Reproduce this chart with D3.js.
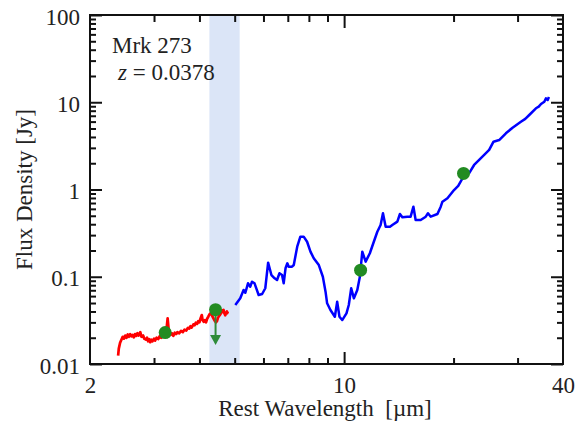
<!DOCTYPE html>
<html>
<head>
<meta charset="utf-8">
<script src="https://cdn.jsdelivr.net/npm/d3@7"></script>
<style>
  body { margin: 0; background: #fff; }
  svg text { font-family: 'Liberation Serif', 'Times New Roman', Times, 'DejaVu Serif', serif; }
</style>
</head>
<body>
<div id="sed"></div>
<script>
// wavelength [um], flux [Jy]
const nirWave = [2.39, 2.40, 2.42, 2.44, 2.46, 2.48, 2.50, 2.52, 2.54, 2.56, 2.58, 2.60, 2.62, 2.64, 2.66, 2.68, 2.70, 2.72, 2.75, 2.77,
  2.80, 2.82, 2.85, 2.87, 2.89, 2.91, 2.93, 2.95, 2.97, 3.00, 3.02, 3.05, 3.08, 3.11, 3.14, 3.17, 3.20, 3.23, 3.25, 3.27,
  3.29, 3.31, 3.33, 3.36, 3.39, 3.42, 3.45, 3.48, 3.52, 3.56, 3.60, 3.64, 3.68, 3.72, 3.75, 3.78, 3.81, 3.85, 3.88, 3.91,
  3.94, 3.97, 4.00, 4.03, 4.06, 4.08, 4.11, 4.14, 4.17, 4.20, 4.23, 4.27, 4.30, 4.33, 4.36, 4.40, 4.44, 4.47, 4.50, 4.53,
  4.56, 4.60, 4.63, 4.66, 4.68, 4.71, 4.73, 4.76, 4.78, 4.81]
const nirFlux = [0.0125, 0.0150, 0.0175, 0.0190, 0.0205, 0.0195, 0.0212, 0.0200, 0.0218, 0.0205, 0.0220, 0.0208, 0.0216, 0.0202, 0.0220, 0.0210, 0.0225, 0.0212, 0.0232, 0.0205,
  0.0212, 0.0195, 0.0190, 0.0200, 0.0182, 0.0192, 0.0178, 0.0190, 0.0182, 0.0195, 0.0185, 0.0200, 0.0193, 0.0208, 0.0200, 0.0215, 0.0222, 0.0230, 0.0260, 0.0334,
  0.0255, 0.0232, 0.0215, 0.0225, 0.0210, 0.0228, 0.0220, 0.0232, 0.0225, 0.0240, 0.0232, 0.0248, 0.0242, 0.0260, 0.0255, 0.0272, 0.0262, 0.0285, 0.0278, 0.0298,
  0.0288, 0.0310, 0.0300, 0.0335, 0.0364, 0.0320, 0.0305, 0.0318, 0.0300, 0.0330, 0.0348, 0.0375, 0.0385, 0.0360, 0.0340, 0.0315, 0.0300, 0.0310, 0.0340, 0.0355,
  0.0368, 0.0390, 0.0410, 0.0416, 0.0385, 0.0362, 0.0380, 0.0400, 0.0385, 0.0380]

const irsWave = [5.02, 5.18, 5.29, 5.35, 5.44, 5.52, 5.58, 5.67, 5.82, 5.95, 6.07, 6.18, 6.31, 6.44, 6.54, 6.64, 6.75, 6.82, 6.90, 6.98,
  7.04, 7.19, 7.27, 7.43, 7.58, 7.74, 7.91, 8.08, 8.25, 8.52, 8.74, 8.89, 8.98, 9.17, 9.43, 9.57, 9.71, 9.88, 10.15, 10.30,
  10.46, 10.64, 10.87, 11.05, 11.22, 11.46, 11.77, 12.03, 12.34, 12.60, 12.79, 13.01, 13.37, 13.57, 14.01, 14.24, 14.46, 14.93, 15.24, 15.51,
  15.73, 16.24, 16.77, 17.01, 17.31, 18.06, 18.44, 18.64, 19.24, 20.06, 20.6, 21.16, 22.06, 22.78, 23.52, 24.28, 25.06, 25.76, 26.70, 27.86,
  29.06, 30.64, 31.5, 32.30, 33.70, 34.3, 34.80, 35.54, 35.91, 36.30, 36.60]
const irsFlux = [0.0474, 0.0566, 0.0705, 0.0656, 0.0841, 0.0769, 0.0878, 0.0841, 0.0618, 0.0634, 0.0738, 0.145, 0.1047, 0.096, 0.0918, 0.1096, 0.1047, 0.0841, 0.125, 0.1426,
  0.1304, 0.1304, 0.1364, 0.221, 0.288, 0.288, 0.252, 0.194, 0.163, 0.136, 0.100, 0.0674, 0.0496, 0.0416, 0.0348, 0.0518, 0.0348, 0.0319, 0.0381, 0.0474,
  0.0738, 0.0566, 0.0705, 0.100, 0.194, 0.149, 0.186, 0.242, 0.328, 0.392, 0.534, 0.375, 0.375, 0.392, 0.428, 0.524, 0.480, 0.488, 0.488, 0.635,
  0.447, 0.447, 0.488, 0.534, 0.488, 0.524, 0.635, 0.725, 0.793, 0.986, 1.10, 1.343, 1.534, 1.91, 2.18, 2.49, 2.84, 3.53, 3.69, 4.41,
  5.11, 5.98, 6.45, 7.14, 8.53, 8.90, 9.55, 10.14, 11.1, 10.6, 11.5]

const photWave = [3.22, 4.43, 11.1, 21.3]
const photFlux = [0.0229, 0.0419, 0.119, 1.53]
const photUpper = [false, true, false, false]
const upperTo = 0.0165

const band = [4.26, 5.16]

const xLabels = [2, 10, 40]
const xMajor = [10]
const xMinor = [3, 4, 5, 6, 7, 8, 9, 20, 30]
const yLabels = [0.01, 0.1, 1, 10, 100]
const yLabelText = ['0.01', '0.1', '1', '10', '100']
const yMinor = [0.01, 0.1, 1, 10].flatMap(d => [2, 3, 4, 5, 6, 7, 8, 9].map(k => +(d * k).toPrecision(3)))

const width = 579
const height = 425
const marginTop = 15
const marginRight = 16
const marginBottom = 61
const marginLeft = 90
const innerWidth = width - marginLeft - marginRight
const innerHeight = height - marginTop - marginBottom

const svg = d3.select('#sed')
              .append('svg')
              .attr('width', width)
              .attr('height', height)
              .append('g')
              .attr('transform', `translate(${marginLeft}, ${marginTop})`)

const x = d3.scaleLog()
            .domain([2, 40])
            .range([0, innerWidth])

const y = d3.scaleLog()
            .domain([0.01, 100])
            .range([innerHeight, 0])

// shaded band
svg.append('rect')
   .attr('x', x(band[0]))
   .attr('y', 0)
   .attr('width', x(band[1]) - x(band[0]))
   .attr('height', innerHeight)
   .attr('fill', '#dbe5f7')

// inward ticks on all four sides
const tickAxes = [
  [d3.axisBottom(x).tickValues(xMajor).tickSize(-12), `translate(0, ${innerHeight})`],
  [d3.axisBottom(x).tickValues(xMinor).tickSize(-6), `translate(0, ${innerHeight})`],
  [d3.axisTop(x).tickValues(xMajor).tickSize(-13), null],
  [d3.axisTop(x).tickValues(xMinor).tickSize(-7), null],
  [d3.axisLeft(y).tickValues(yLabels).tickSize(-12), null],
  [d3.axisLeft(y).tickValues(yMinor).tickSize(-6), null],
  [d3.axisRight(y).tickValues(yLabels).tickSize(-12), `translate(${innerWidth}, 0)`],
  [d3.axisRight(y).tickValues(yMinor).tickSize(-6), `translate(${innerWidth}, 0)`]
]
tickAxes.forEach(([axis, tr]) => {
  const g = svg.append('g')
  if (tr) g.attr('transform', tr)
  g.call(axis.tickFormat(''))
  g.select('.domain').remove()
  g.selectAll('line').attr('stroke', '#111').attr('stroke-width', 2)
})

svg.append('rect')
   .attr('width', innerWidth)
   .attr('height', innerHeight)
   .attr('fill', 'none')
   .attr('stroke', '#111')
   .attr('stroke-width', 2)

// tick labels
const xl = svg.append('g')
              .attr('transform', `translate(0, ${innerHeight})`)
              .call(d3.axisBottom(x).tickValues(xLabels).tickSize(0).tickPadding(13).tickFormat(d3.format('d')))
xl.attr('font-size', 23)
xl.select('.domain').remove()
xl.selectAll('text').attr('fill', '#222')

const yl = svg.append('g')
              .call(d3.axisLeft(y).tickValues(yLabels).tickSize(0).tickPadding(10).tickFormat((d, i) => yLabelText[i]))
yl.attr('font-size', 23)
yl.select('.domain').remove()
yl.selectAll('text').attr('fill', '#222').attr('dy', '0.4em')

// axis titles
svg.append('text')
   .attr('x', 235)
   .attr('y', innerHeight + 52)
   .attr('text-anchor', 'middle')
   .attr('font-size', 23)
   .attr('fill', '#222')
   .attr('xml:space', 'preserve')
   .text('Rest Wavelength  [\u00b5m]')

svg.append('text')
   .attr('transform', `translate(${-58}, ${innerHeight / 2}) rotate(-90)`)
   .attr('text-anchor', 'middle')
   .attr('font-size', 23)
   .attr('fill', '#222')
   .text('Flux Density [Jy]')

// annotation
svg.append('text')
   .attr('x', 22)
   .attr('y', 38)
   .attr('font-size', 23)
   .attr('fill', '#222')
   .text('Mrk 273')

const zt = svg.append('text')
              .attr('x', 28)
              .attr('y', 65)
              .attr('font-size', 23)
              .attr('fill', '#222')
              .attr('xml:space', 'preserve')
zt.append('tspan').attr('font-style', 'italic').text('z')
zt.append('tspan').text(' = 0.0378')

// spectra
const line = d3.line()
               .x(d => x(d[0]))
               .y(d => y(d[1]))

svg.append('path')
   .datum(d3.zip(nirWave, nirFlux))
   .attr('d', line)
   .attr('fill', 'none')
   .attr('stroke', '#ff0000')
   .attr('stroke-width', 2.7)
   .attr('stroke-linejoin', 'round')

svg.append('path')
   .datum(d3.zip(irsWave, irsFlux))
   .attr('d', line)
   .attr('fill', 'none')
   .attr('stroke', '#0000ff')
   .attr('stroke-width', 2.5)
   .attr('stroke-linejoin', 'round')

// photometry, with the upper limit arrow
const phot = d3.zip(photWave, photFlux, photUpper)

phot.filter(d => d[2]).forEach(d => {
  svg.append('line')
     .attr('x1', x(d[0])).attr('x2', x(d[0]))
     .attr('y1', y(d[1])).attr('y2', y(upperTo) - 7)
     .attr('stroke', '#2e8b3a')
     .attr('stroke-width', 2)
  svg.append('path')
     .attr('d', `M${x(d[0]) - 5.5},${y(upperTo) - 10} L${x(d[0]) + 5.5},${y(upperTo) - 10} L${x(d[0])},${y(upperTo)} Z`)
     .attr('fill', '#2e8b3a')
})

svg.selectAll('.dot')
   .data(phot)
   .enter().append('circle')
   .attr('class', 'dot')
   .attr('cx', d => x(d[0]))
   .attr('cy', d => y(d[1]))
   .attr('r', 6.5)
   .attr('fill', '#228b22')
</script>
</body>
</html>
